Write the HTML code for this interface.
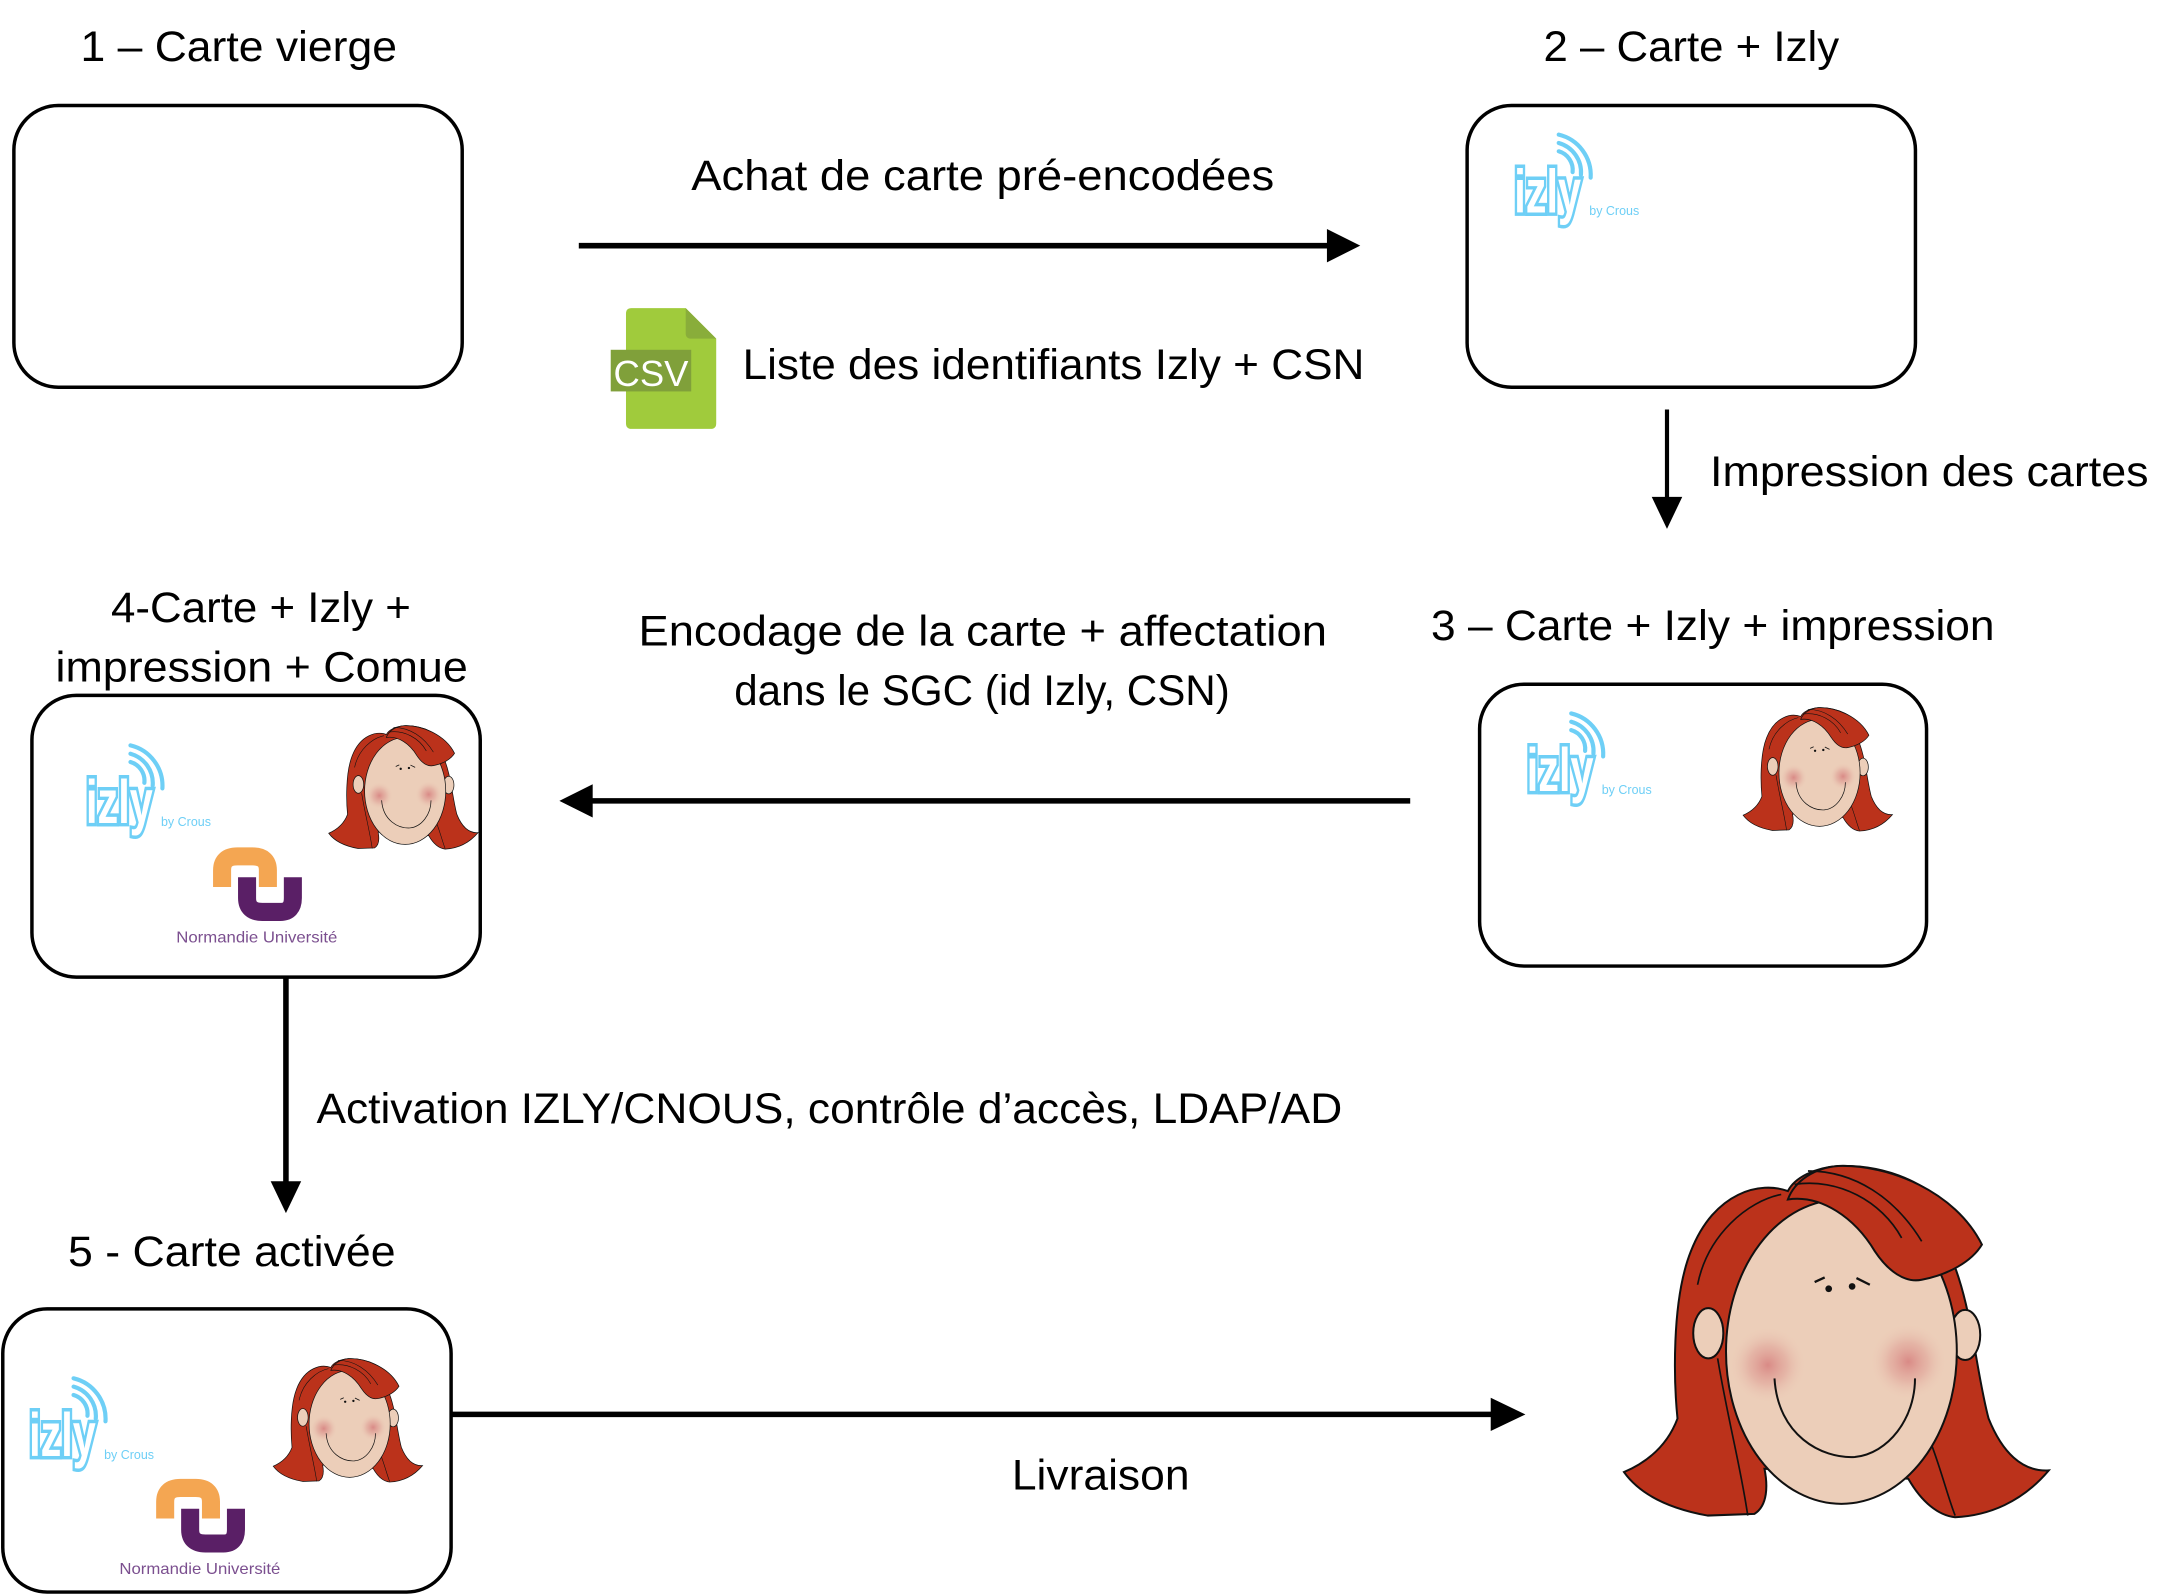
<!DOCTYPE html>
<html><head><meta charset="utf-8"><style>
html,body{margin:0;padding:0;background:#fff}
svg{display:block}
text{font-family:"Liberation Sans",sans-serif}
</style></head><body>
<svg width="2175" height="1594" viewBox="0 0 1567 1148.4" preserveAspectRatio="none" xmlns="http://www.w3.org/2000/svg">
<defs>
<radialGradient id="ck"><stop offset="0" stop-color="#d98a86"/><stop offset="0.5" stop-color="#e2aa9e" stop-opacity="0.7"/><stop offset="1" stop-color="#ecccb8" stop-opacity="0"/></radialGradient>
<g id="face">
<path d="M500 120 C420 90 280 120 210 300 C150 450 160 700 170 800 C140 880 80 930 10 960 C60 1030 150 1070 260 1090 L400 1085 C440 1060 440 1000 430 950 L860 980 C900 1050 950 1090 1000 1095 C1100 1090 1200 1050 1280 955 C1200 960 1140 900 1100 800 C1060 650 1050 450 980 300 C1030 310 1080 290 1075 275 C960 100 800 40 650 45 C580 50 520 80 500 120 Z" fill="#bb321b" stroke="#111" stroke-width="6"/>
<ellipse cx="262" cy="545" rx="45" ry="75" fill="#ecceb9" stroke="#111" stroke-width="6"/>
<ellipse cx="1030" cy="550" rx="45" ry="75" fill="#ecceb9" stroke="#111" stroke-width="6"/>
<ellipse cx="660" cy="600" rx="345" ry="455" fill="#ecceb9" stroke="#111" stroke-width="6"/>
<circle cx="440" cy="640" r="115" fill="url(#ck)"/>
<circle cx="860" cy="630" r="115" fill="url(#ck)"/>
<path d="M500 145 C600 130 700 200 760 300 C800 360 850 395 900 385 C980 370 1050 330 1080 280 C1000 120 800 40 650 45 C580 50 520 90 500 145 Z" fill="#bb321b" stroke="#111" stroke-width="6"/>
<path d="M520 100 C650 80 780 150 840 260 M560 60 C700 60 820 140 900 270 M230 400 C260 250 380 150 480 130 M290 620 C320 800 360 950 380 1090 M930 880 C960 960 980 1040 1000 1090" fill="none" stroke="#111" stroke-width="5"/>
<path d="M460 680 C470 850 600 920 700 915 C800 905 880 800 880 680" fill="none" stroke="#111" stroke-width="6"/>
<circle cx="622" cy="412" r="10" fill="#111"/><circle cx="692" cy="405" r="10" fill="#111"/>
<path d="M580 392 L610 378 M705 380 L745 400" stroke="#111" stroke-width="7"/>
</g>
<g id="izly">
<path d="M34 9 A14 14 0 0 1 44 24 M34 3 A22 22 0 0 1 50 26 M34 -3 A30 30 0 0 1 57 28" fill="none" stroke="#6ecff6" stroke-width="3" stroke-linecap="round" transform="translate(-2,0)"/>
<text x="0" y="53" font-size="44" font-weight="bold" fill="#fff" stroke="#6ecff6" stroke-width="5" paint-order="stroke" textLength="48" lengthAdjust="spacingAndGlyphs">izly</text>
<text x="54" y="55" font-size="9" fill="#6ecff6">by Crous</text>
</g>
<g id="nu">
<path d="M33 -40 L33 -52 Q33 -62 44 -62 L55 -62 Q66 -62 66 -52 L66 -40" fill="none" stroke="#f4a652" stroke-width="13" stroke-linejoin="round"/>
<path d="M51 -47 L51 -32 Q51 -22 62 -22 L75 -22 Q84 -22 84 -32 L84 -47" fill="none" stroke="#5a1f66" stroke-width="13" stroke-linejoin="round"/>
<text x="0" y="0" font-size="11.5" fill="#7b4f8f" textLength="116" lengthAdjust="spacingAndGlyphs">Normandie Université</text>
</g>
</defs>

<g font-size="31" fill="#000">
<text x="58" y="44" textLength="228" lengthAdjust="spacingAndGlyphs">1 – Carte vierge</text>
<text x="1112" y="44" textLength="213" lengthAdjust="spacingAndGlyphs">2 – Carte + Izly</text>
<text x="498" y="137" textLength="420" lengthAdjust="spacingAndGlyphs">Achat de carte pré-encodées</text>
<text x="535" y="273" textLength="448" lengthAdjust="spacingAndGlyphs">Liste des identifiants Izly + CSN</text>
<text x="1232" y="350" textLength="316" lengthAdjust="spacingAndGlyphs">Impression des cartes</text>
<text x="1031" y="461" textLength="406" lengthAdjust="spacingAndGlyphs">3 – Carte + Izly + impression</text>
<text x="80" y="448" textLength="216" lengthAdjust="spacingAndGlyphs">4-Carte + Izly +</text>
<text x="40" y="491" textLength="297" lengthAdjust="spacingAndGlyphs">impression + Comue</text>
<text x="460" y="465" textLength="496" lengthAdjust="spacingAndGlyphs">Encodage de la carte + affectation</text>
<text x="529" y="508" textLength="357" lengthAdjust="spacingAndGlyphs">dans le SGC (id Izly, CSN)</text>
<text x="228" y="809" textLength="739" lengthAdjust="spacingAndGlyphs">Activation IZLY/CNOUS, contrôle d’accès, LDAP/AD</text>
<text x="49" y="912" textLength="236" lengthAdjust="spacingAndGlyphs">5 - Carte activée</text>
<text x="729" y="1073" textLength="128" lengthAdjust="spacingAndGlyphs">Livraison</text>
</g>

<g fill="none" stroke="#000" stroke-width="2.5">
<rect x="10" y="76" width="323" height="203" rx="32"/>
<rect x="1057" y="76" width="323" height="203" rx="32"/>
<rect x="1066" y="493" width="322" height="203" rx="32"/>
<rect x="23" y="501" width="323" height="203" rx="32"/>
<rect x="2" y="943" width="323" height="204" rx="32"/>
</g>

<line x1="417" y1="177" x2="960" y2="177" stroke="#000" stroke-width="4"/>
<path d="M956 165 L980 177 L956 189 Z"/>
<line x1="1201" y1="295" x2="1201" y2="362" stroke="#000" stroke-width="3"/>
<path d="M1190 358 L1201 381 L1212 358 Z"/>
<line x1="1016" y1="577" x2="422" y2="577" stroke="#000" stroke-width="4"/>
<path d="M427 565 L403 577 L427 589 Z"/>
<line x1="206" y1="704" x2="206" y2="855" stroke="#000" stroke-width="4"/>
<path d="M195 851 L206 874 L217 851 Z"/>
<line x1="325" y1="1019" x2="1078" y2="1019" stroke="#000" stroke-width="4"/>
<path d="M1074 1007 L1099 1019 L1074 1031 Z"/>

<path d="M455 222 L494 222 L516 244 L516 305 Q516 309 512 309 L455 309 Q451 309 451 305 L451 226 Q451 222 455 222 Z" fill="#a0cb3c"/>
<path d="M494 222 L494 240 Q494 244 498 244 L516 244 Z" fill="#89ad3a"/>
<rect x="440" y="252" width="58" height="30" fill="#80a03a"/>
<text x="442" y="278" font-size="26" fill="#fff" textLength="54" lengthAdjust="spacingAndGlyphs">CSV</text>

<use href="#izly" transform="translate(1091,100)"/>
<use href="#izly" transform="translate(1100,517)"/>
<use href="#izly" transform="translate(62,540)"/>
<use href="#izly" transform="translate(21,996)"/>

<use href="#nu" transform="translate(127,679)"/>
<use href="#nu" transform="translate(86,1134)"/>

<use href="#face" transform="translate(1167.6,829.2) scale(0.241)"/>
<use href="#face" transform="translate(1255,506) scale(0.0847)"/>
<use href="#face" transform="translate(236,519) scale(0.0847)"/>
<use href="#face" transform="translate(196,975) scale(0.0847)"/>
</svg>
</body></html>
